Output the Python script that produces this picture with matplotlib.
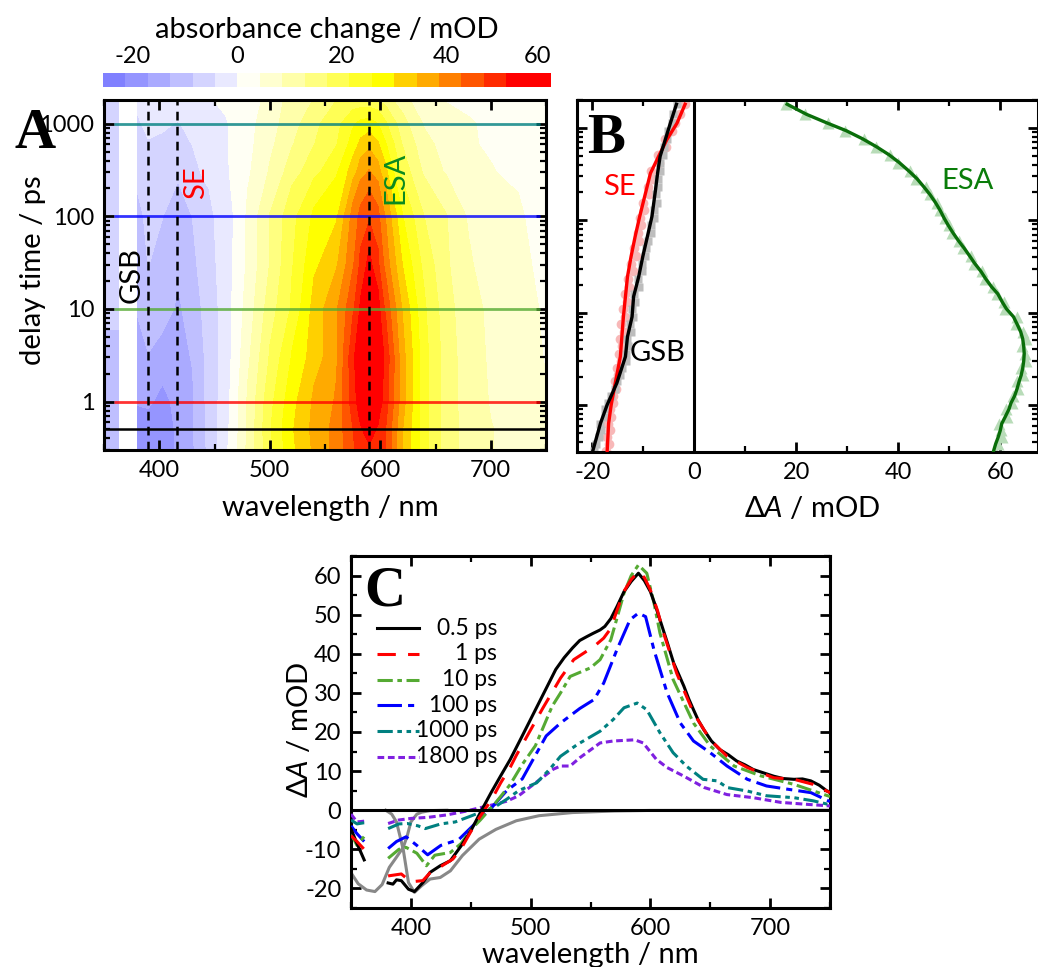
#!/usr/bin/env python3
import numpy as np
import matplotlib
matplotlib.use('Agg')
import matplotlib.pyplot as plt
from matplotlib.ticker import LogLocator, MultipleLocator, NullFormatter, FixedLocator

plt.rcParams['font.family'] = ['Lato', 'DejaVu Sans']
plt.rcParams['axes.unicode_minus'] = False
plt.rcParams['mathtext.fontset'] = 'custom'
plt.rcParams['mathtext.rm'] = 'Lato'
plt.rcParams['mathtext.it'] = 'Lato:italic'

W, H = 1038, 967
nan = np.nan

# ----------------- panel A map -----------------
wl_map = [350, 356, 363, 363.5, 380, 380.5, 390, 403, 417, 430, 445, 460, 470, 480, 500, 520,
          540, 560, 575, 582, 590, 598, 605, 620, 640, 660, 680, 700, 725, 750]
t_map = [0.3, 0.5, 1, 3, 10, 30, 100, 300, 600, 1000, 1800]
map_03 = [-9, -9, -9, nan, nan, -18, -18.5, -21.5, -16, -13.5, -7.5, -1, 4, 9.5, 20, 29, 35, 40, 46, 50, 51, 50, 47, 34, 23, 15, 11, 8.7, 7.2, 4.5]
map_05 = [-9, -9, -9, nan, nan, -18.6, -18.5, -20.8, -15.9, -13.2, -7.5, -1.5, 3.5, 9, 21, 29.5, 35.5, 40, 47, 51, 53, 51, 47, 34.5, 23, 15, 11, 8.7, 7.5, 4.7]
map_1 = [-9, -9, -9, nan, nan, -16.8, -16.5, -18.3, -16, -13.5, -7, -2, 3.5, 9, 20, 28.5, 35, 39, 49, 54, 57, 54, 49, 36, 23, 15, 10.8, 8.3, 7, 4.6]
map_3 = [-9, -9, -9, nan, nan, -14.5, -13, -14, -15, -12.5, -7, -2.5, 2.5, 7.5, 17.5, 26, 32, 37.5, 50, 56, 60, 56, 50, 36, 23, 15, 10.5, 8, 6.5, 4]
map_10 = [-8, -8, -8, nan, nan, -12.3, -10, -11, -13.5, -11, -6.5, -2.5, 2, 6, 15, 22, 31.5, 38, 46, 52, 56, 53, 46, 34, 22, 14.5, 10, 7.8, 6, 3.7]
map_30 = [-7, -7, -7, nan, nan, -10.5, -8.5, -9.5, -12, -9.5, -6, -2, 1.2, 5, 13, 21, 29, 33.5, 42, 48, 53, 48, 41, 30, 20, 13.5, 9, 7, 5.5, 3]
map_100 = [-6, -6, -6, nan, nan, -9.8, -7.5, -8.5, -11, -8.5, -5.5, -1.5, 0.6, 5, 13, 20, 26.5, 29, 40, 44, 46, 44, 38, 26, 17, 13, 8, 6.3, 4.8, 2.5]
map_300 = [-6, -6, -6, nan, nan, -6.5, -5.5, -6, -7.5, -5.5, -3, -0.5, 1, 3.5, 9, 15, 20, 25, 32, 36.5, 39, 36, 31, 20, 12, 8, 5.5, 4.5, 3.5, 2]
map_600 = [-5, -5, -5, nan, nan, -5.5, -4.5, -4.8, -5.8, -4.2, -2, -0.3, 0.9, 3, 7.5, 12.5, 17, 21, 27.5, 31, 33, 30.5, 26, 17, 10, 6.8, 4.7, 3.8, 3, 1.7]
map_1000 = [-5, -5, -5, nan, nan, -4.7, -3.5, -3.8, -4.5, -3.3, -1.5, -0.3, 0.8, 2.8, 6.8, 11, 16, 20, 25, 26.8, 27.4, 25.7, 22, 14.7, 8, 6, 4.7, 3.5, 2.8, 1.5]
map_1800 = [-4.6, -4.6, -4.6, nan, nan, -3.4, -2.5, -2.1, -1.8, -1.2, -0.3, 0.8, 1.5, 2.3, 5.5, 10.5, 13, 17, 18, 18, 18, 17, 15, 10, 6, 4, 3, 2.2, 1.6, 1.1]

cores_map = ['#8080ff', '#9595ff', '#aaaaff', '#bfbfff', '#d4d4ff', '#e9e9ff',
             '#fffff4', '#ffffd0', '#ffffaa', '#ffff80', '#ffff55', '#ffff2a', '#ffff00',
             '#ffd000', '#ffaa00', '#ff8000', '#ff5500', '#ff2a00', '#ff0000', '#ff0000']
niveis = [-25.71, -21.43, -17.14, -12.86, -8.57, -4.29, 0, 4.29, 8.57, 12.86, 17.14, 21.43,
          25.71, 30, 34.29, 38.57, 42.86, 47.14, 51.43, 55.71, 60]

# ----------------- panel B kinetics -----------------
t_raw = [0.32, 0.38, 0.45, 0.53, 0.63, 0.75, 0.9, 1.05, 1.25, 1.5, 1.8, 2.1, 2.5, 3, 3.6, 4.3, 5.2, 6.2, 7.5, 9,
         11, 13, 16, 19, 23, 28, 34, 41, 50, 60, 72, 88, 105, 128, 155, 190, 230, 280, 340, 420, 510, 620, 760,
         930, 1130, 1400, 1800]
esa_fit = [58.7, 59.1, 59.6, 60, 60.3, 61, 61.7, 62.1, 62.8, 63.3, 63.7, 64.1, 64.4, 64.6, 64.7, 64.6, 64.4, 64, 63.3, 62.6,
           61.2, 60.4, 59.5, 58.3, 57.2, 56.2, 55, 54, 52.9, 51.8, 50.8, 49.8, 49, 48.2, 47.3, 46.2, 45, 43.7, 42.1, 40.2,
           38.2, 35.8, 33, 29.8, 26, 22, 18.2]
esa_raw = [59.0, 59.6, 60.4, 60.2, 59.8, 61.3, 61.1, 62.3, 62.4, 63.4, 63.3, 64.5, 64.1, 65.0, 64.9, 64.3, 65.0, 64.4,
           63.1, 63.2, 61.0, 60.8, 59.3, 58.5, 57.0, 56.4, 54.8, 54.2, 52.7, 52.0, 50.6, 50.0, 49.2, 48.1, 47.6, 46.2,
           45.5, 43.5, 42.3, 40.0, 38.4, 35.6, 33.2, 29.6, 26.2, 21.8, 18.0]
t_fit = [0.305, 0.633, 1, 1.72, 3.34, 5.49, 9.02, 14.9, 24.5, 40.4, 66.5, 110, 214, 322, 491, 742, 1120, 1800]
gsb_fit = [-20, -18.4, -17.1, -15.2, -13.5, -13.1, -12.2, -11.9, -10.9, -10.1, -9.2, -8.3, -7.6, -7.2, -6.7, -5.7, -4.7, -3.5]
se_fit = [-17.1, -16.8, -16.3, -15.5, -14.5, -14.2, -13.9, -13.5, -13.1, -12.4, -11.6, -10.7, -9.4, -8.6, -7, -5.4, -3.4, -1.8]
gsb_raw = [-19.6, -19.2, -18.6, -18.2, -18.4, -17.5, -17.5, -16.9, -16.3, -15.5, -15.1, -14.6, -14.1, -13.4, -13.4,
           -13.0, -13.2, -12.5, -12.7, -12.1, -12.2, -11.6, -11.8, -10.9, -11.0, -10.2, -10.3, -9.7, -9.5, -9.0, -8.5,
           -8.5, -7.9, -7.9, -7.4, -7.6, -7.1, -7.2, -6.7, -6.8, -6.2, -5.9, -5.4, -5.1, -4.4, -4.1, -3.4]
se_raw = [-17.3, -16.8, -17.1, -16.6, -17.0, -16.3, -16.6, -16.0, -16.0, -15.4, -15.6, -14.9, -15.2, -14.4, -14.8,
          -14.1, -14.5, -13.8, -14.3, -13.5, -13.9, -13.2, -13.5, -12.8, -13.0, -12.1, -12.4, -11.5, -11.8, -10.9, -11.1,
          -10.4, -10.7, -9.8, -10.0, -8.9, -9.1, -8.0, -8.4, -6.9, -7.2, -5.6, -5.8, -4.4, -3.7, -2.8, -1.9]

# ----------------- panel C spectra -----------------
wl_05 = [350, 355, 361, nan, 381, 385, 388, 392, 398, 403, 410, 416, 424.5, 433, 442, 450, 458.7, 467, 475, 483, 493, 507,
         521, 528, 535, 541, 547, 552, 558, 562, 567, 572, 578, 584, 590, 595, 600, 604, 608, 614, 619.5, 624, 628, 632, 636,
         640, 644.6, 651, 658, 665, 672, 679, 686, 694, 703, 711, 720, 727, 734, 741, 747.6, 750]
ab_05 = [-4.8, -8.5, -12.7, nan, -18.6, -18.9, -17.8, -18, -20.2, -20.8, -18.5, -15.9, -14.2, -12.9, -9.1, -5.3, -0.2,
         4.5, 8.8, 13, 19, 27.5, 36, 39, 41.5, 43.4, 44.4, 45.2, 46.1, 47, 49, 52, 55.9, 58.5, 60.6, 58.7, 55.9, 52.5, 48.7, 43, 37.6,
         34.5, 31.7, 28.5, 25.7, 23, 20.6, 17.7, 15.5, 14.2, 12.6, 11.6, 10.4, 9.6, 8.7, 8.1, 7.9, 8, 7.5, 6.4, 4.9, 4.5]
wl_1 = [350, 355, 361, nan, 381, 392, 400, 410, 416, 425, 435, 442, 450, 458, 467, 475, 483, 488, 510, 525, 536, 553,
        561, 567, 572, 578, 584, 590, 595, 600, 606, 611, 622, 636, 650, 664, 681, 703, 720, 736, 750]
ab_1 = [-6.5, -8, -10, nan, -16.8, -16.3, -18.3, -18, -16, -14.4, -12.5, -9.8, -5.5, -1.5, 2.5, 7, 11, 14, 26, 33.8, 38.5,
        41.9, 44, 46.5, 51, 56, 59, 61, 59.5, 56.3, 51, 45.3, 35, 24.9, 18, 13.8, 10.9, 8.3, 7.9, 6.6, 4.5]
wl_10 = [350, 355, 361, nan, 381, 390, 396, 405, 413, 420, 433, 442, 450, 458, 471, 483, 493, 504, 518, 525, 533, 550,
         558, 567, 572, 578, 584, 590, 597, 603, 608, 619, 636, 650, 670, 692, 720, 750]
ab_10 = [-6, -9, -6.7, nan, -12.3, -10, -9.5, -11, -14.2, -11.5, -10.8, -8.5, -5, -2.5, 2, 6.6, 11.7, 16.5, 26.6, 30, 34.2,
         36.4, 38.5, 43.6, 49, 55.5, 60, 62.7, 60.6, 53, 45.3, 33.4, 22.3, 16.4, 11.3, 8.8, 6.6, 3.5]
wl_100 = [350, 355, 361, nan, 381, 388, 396, 405, 414, 425, 440, 450, 460, 467, 480, 493, 513, 525, 541, 553, 561, 572,
          583, 590, 596, 603, 614, 625, 636, 650, 664, 681, 697, 714, 734, 750]
ab_100 = [-4, -6, -8, nan, -9.8, -8, -6.8, -9, -11.4, -9, -7.5, -4.5, -1.5, 0.5, 5, 8, 19, 22.3, 26, 28.3, 32.5, 41, 48.7,
          50.4, 49.5, 41, 30, 22.3, 17.7, 14.7, 11.3, 7.9, 6.2, 5.4, 4.5, 2.2]
wl_1000 = [350, 355, 361, nan, 381, 390, 397, 406, 412, 425, 437, 450, 460, 470, 480, 490, 505, 516, 525, 539, 558, 569,
           578, 589, 597, 608, 619, 630, 644, 656, 664, 681, 697, 720, 736, 750]
ab_1000 = [-2.5, -3.5, -3.2, nan, -4.7, -3.5, -3.4, -4, -4.7, -3.5, -3, -1.5, -0.3, 0.8, 2.8, 5, 7, 10.5, 13.8, 16.8, 20.2,
           23.2, 26.2, 27.4, 25.7, 19.8, 14.7, 11.3, 7.9, 7.5, 5.8, 4.9, 3.7, 3.2, 2.4, 1.4]
wl_1800 = [350, 355, 361, nan, 381, 390, 400, 415, 430, 445, 460, 470, 480, 490, 499, 519, 525, 533, 541, 558, 569, 587,
           594, 605, 614, 628, 645, 664, 686, 709, 731, 750]
ab_1800 = [-1, -3, -2.8, nan, -3.4, -2.5, -2.1, -1.8, -1.2, -0.3, 0.8, 1.5, 2.3, 3.7, 5.8, 10.5, 11.3, 11.3, 13.4, 17.2,
           17.7, 18, 17.2, 13, 10.9, 8.7, 5.8, 4, 3.2, 2, 1.5, 1.1]

# espectros estacionarios (cinza)
wl_abs = [350, 356, 363, 370, 376, 382, 388, 393.6, 397, 400, 405, 409, 416, 430]
ab_abs = [-16, -18.8, -20.4, -20.8, -19, -14.6, -12, -9.5, -6.5, -3, -1, -0.5, -0.1, 0]
wl_em = [379, 384, 388, 393.6, 398, 403, 409, 416, 424.5, 433, 443, 457, 471, 488, 507, 535, 570, 600, 750]
ab_em = [0, -1, -3, -10, -18.5, -21, -19.3, -17.6, -17.2, -15.5, -11.6, -7.4, -4.9, -2.7, -1.4, -0.6, -0.2, -0.05, 0]

delays = ['0.5 ps', '1 ps', '10 ps', '100 ps', '1000 ps', '1800 ps']
cores = ['#000000', '#ff0000', '#55aa33', '#0000ff', '#008080', '#7f20e0']
estilos = ['-', (0, (6, 4)), (0, (5, 1.5, 1.5, 1.5)), (0, (8, 2, 2, 2)), (0, (5, 1.5, 1.5, 1.5, 1.5, 1.5)), (0, (2.2, 1.2))]
t_linhas = [0.5, 1, 10, 100, 1000]

FS_LAB = 21
FS_TICK = 17


def eixo(x0, y0, x1, y1):
    # caixa em pixels da imagem
    return fig.add_axes([x0 / W, 1 - y1 / H, (x1 - x0) / W, (y1 - y0) / H])


def moldura(ax):
    for s in ax.spines.values():
        s.set_linewidth(2.2)
    ax.tick_params(which='major', direction='in', length=7, width=2, top=True, right=True, labelsize=FS_TICK, pad=7)
    ax.tick_params(which='minor', direction='in', length=4, width=1.6, top=True, right=True)


def rotulo(x, y, s, **kw):
    fig.text(x / W, 1 - y / H, s, ha='center', va='center', **kw)


fig = plt.figure(figsize=(W / 100, H / 100), dpi=100)

# ----------------- A -----------------
axA = eixo(104, 100, 546, 450)
Z = np.array([map_03, map_05, map_1, map_3, map_10, map_30, map_100, map_300, map_600, map_1000, map_1800])
Z = np.ma.masked_invalid(np.clip(Z, -25.7, 59.9))
cf = axA.contourf(wl_map, t_map, Z, levels=niveis, colors=cores_map)
axA.set_yscale('log')
axA.set_xlim(350, 750)
axA.set_ylim(0.3, 1800)
for t, c in zip(t_linhas, cores):
    if t == 0.5:
        axA.axhline(t, color=c, lw=1.8, zorder=3)
    else:
        axA.plot([359, 745], [t, t], color=c, lw=2, alpha=0.8, zorder=3, solid_capstyle='butt')
for w in [390, 416.5, 590]:
    axA.axvline(w, color='black', lw=1.8, ls=(0, (3.5, 2.5)), zorder=4)
axA.xaxis.set_major_locator(MultipleLocator(100))
axA.xaxis.set_minor_locator(MultipleLocator(50))
axA.yaxis.set_major_locator(FixedLocator([1, 10, 100, 1000]))
axA.yaxis.set_major_formatter(plt.FuncFormatter(lambda v, p: f'{v:g}'))
axA.yaxis.set_minor_locator(LogLocator(base=10, subs=np.arange(2, 10), numticks=12))
axA.yaxis.set_minor_formatter(NullFormatter())
moldura(axA)
axA.set_xlabel('wavelength / nm', fontsize=FS_LAB, labelpad=10, x=0.513)
axA.set_ylabel('delay time / ps', fontsize=FS_LAB)
axA.yaxis.set_label_coords(-0.131, 0.514)
rotulo(132, 275, 'GSB', rotation=90, color='black', fontsize=FS_LAB)
rotulo(196, 183, 'SE', rotation=90, color='#ff0000', fontsize=FS_LAB)
rotulo(395, 178, 'ESA', rotation=90, color='#0a8a20', fontsize=FS_LAB)
rotulo(35, 134, 'A', family='Liberation Serif', weight='bold', fontsize=41)

# barra de cores
cax = eixo(103, 73, 551, 87)
cb = fig.colorbar(cf, cax=cax, orientation='horizontal', drawedges=False)
cb.set_ticks([-20, 0, 20, 40, 60])
cb.ax.xaxis.set_ticks_position('top')
cb.ax.xaxis.set_label_position('top')
cb.ax.tick_params(length=0, labelsize=FS_TICK, pad=4)
cb.ax.minorticks_off()
cb.outline.set_visible(False)
cb.set_label('absorbance change / mOD', fontsize=FS_LAB, labelpad=6)
cb.ax.get_xticklabels()[-1].set_ha('right')

# ----------------- B -----------------
axB = eixo(577, 100, 1038, 452)
axB.set_yscale('log')
axB.plot(esa_raw, t_raw, ls='none', marker='^', ms=8, color='#b8dcb8', mec='none', zorder=2)
axB.plot(se_raw, t_raw, ls='none', marker='o', ms=7, color='#f8b8b8', mec='none', zorder=2)
axB.plot(gsb_raw, t_raw, ls='none', marker='s', ms=6, color='#bdbdbd', mec='none', zorder=2)
axB.plot(esa_fit, t_raw, color='#0a6e0a', lw=2.4, zorder=3)
axB.plot(se_fit, t_fit, color='#ff0000', lw=2.4, zorder=3)
axB.plot(gsb_fit, t_fit, color='black', lw=2.4, zorder=4)
axB.axvline(0, color='black', lw=2.2, zorder=5)
axB.set_xlim(-23, 67.4)
axB.set_ylim(0.31, 2000)
axB.xaxis.set_major_locator(MultipleLocator(20))
axB.xaxis.set_minor_locator(MultipleLocator(10))
axB.yaxis.set_major_locator(FixedLocator([1, 10, 100, 1000]))
axB.yaxis.set_minor_locator(LogLocator(base=10, subs=np.arange(2, 10), numticks=12))
axB.yaxis.set_major_formatter(NullFormatter())
axB.yaxis.set_minor_formatter(NullFormatter())
moldura(axB)
axB.set_xlabel('Δ$\\mathit{A}$ / mOD', fontsize=FS_LAB, labelpad=9, x=0.51)
rotulo(619, 187, 'SE', color='#ff0000', fontsize=FS_LAB)
rotulo(658, 353, 'GSB', color='black', fontsize=FS_LAB)
rotulo(968, 181, 'ESA', color='#0a7d0a', fontsize=FS_LAB)
rotulo(606, 139, 'B', family='Liberation Serif', weight='bold', fontsize=41)

# ----------------- C -----------------
axC = eixo(351, 556, 830, 908)
axC.plot(wl_abs, ab_abs, color='#888888', lw=2.2, zorder=2)
axC.plot(wl_em, ab_em, color='#888888', lw=2.2, zorder=2)
wls = [wl_05, wl_1, wl_10, wl_100, wl_1000, wl_1800]
abss = [ab_05, ab_1, ab_10, ab_100, ab_1000, ab_1800]
linhas = {}
for i in [5, 4, 3, 2, 0, 1]:
    linhas[i], = axC.plot(wls[i], abss[i], color=cores[i], ls=estilos[i], lw=2.2, zorder=3 + (i == 1))
axC.axhline(0, color='black', lw=2.2, zorder=5)
axC.set_xlim(350, 750)
axC.set_ylim(-25, 65)
axC.xaxis.set_major_locator(MultipleLocator(100))
axC.xaxis.set_minor_locator(MultipleLocator(50))
axC.yaxis.set_major_locator(FixedLocator([-20, -10, 0, 10, 20, 30, 40, 50, 60]))
axC.yaxis.set_minor_locator(MultipleLocator(5))
moldura(axC)
axC.set_xlabel('wavelength / nm', fontsize=FS_LAB, labelpad=2)
axC.set_ylabel('Δ$\\mathit{A}$ / mOD', fontsize=FS_LAB)
axC.yaxis.set_label_coords(-0.079, 0.506)
rotulo(385, 592, 'C', family='Liberation Serif', weight='bold', fontsize=41)

# legenda: so as linhas, os textos vao alinhados a direita depois
leg = axC.legend([linhas[i] for i in range(6)], [' '] * 6, loc='upper left', bbox_to_anchor=(0.054, 0.82), frameon=False,
                 fontsize=17, labelspacing=0.2, handlelength=1.8, handletextpad=0.2, borderpad=0, borderaxespad=0)
fig.canvas.draw()
rend = fig.canvas.get_renderer()
for ln, d in zip(leg.get_lines(), delays):
    y = ln.get_window_extent(rend).y0
    fig.text(497 / W, y / H, d, ha='right', va='center', fontsize=16.5)

fig.savefig('out.png', dpi=100)
